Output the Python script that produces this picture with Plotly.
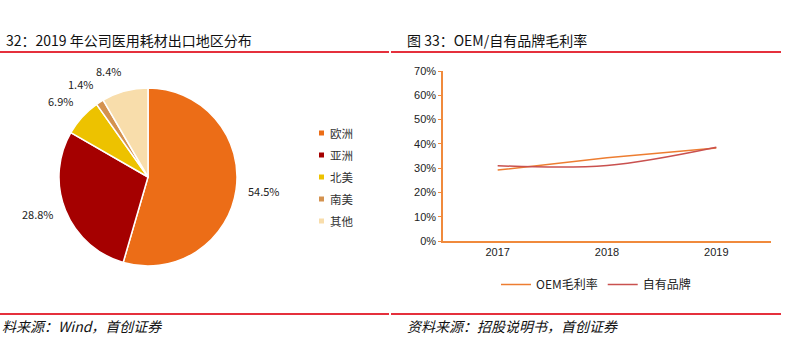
import math
import plotly.graph_objects as go

# Pie data
regions = ["欧洲", "亚洲", "北美", "南美", "其他"]
shares = [54.5, 28.8, 6.9, 1.4, 8.4]
pie_colors = ["#EC6D17", "#A50000", "#EDC200", "#D4924F", "#F8DDAB"]

# Line data
years = ["2017", "2018", "2019"]
oem_margin = [0.292, 0.343, 0.383]
own_margin = [0.310, 0.311, 0.386]
y_ticks = [0, 0.1, 0.2, 0.3, 0.4, 0.5, 0.6, 0.7]

W, H = 785, 340
def px(x): return x / W
def py(y): return 1 - y / H

# pie placement (layout)
CX, CY, R = 148, 177, 89

fig = go.Figure()
fig.add_trace(go.Pie(
    labels=regions, values=shares, sort=False, direction="clockwise", rotation=0,
    marker=dict(colors=pie_colors, line=dict(color="white", width=1.5)),
    textinfo="none", showlegend=False, hoverinfo="skip",
    domain=dict(x=[px(CX - R), px(CX + R)], y=[py(CY + R), py(CY - R)]),
))
fig.add_trace(go.Scatter(
    x=years, y=oem_margin, mode="lines", name="OEM毛利率",
    line=dict(color="#ED7D31", width=1.5),
))
fig.add_trace(go.Scatter(
    x=years, y=own_margin, mode="lines", name="自有品牌",
    line=dict(color="#C9514F", width=1.5, shape="spline", smoothing=1.0),
))

fig.update_layout(
    width=W, height=H, margin=dict(l=0, r=0, t=0, b=0, autoexpand=False),
    paper_bgcolor="white", plot_bgcolor="white",
    font=dict(family="Noto Sans CJK SC", size=11, color="#222"),
    xaxis=dict(domain=[px(443), px(771)], range=[-0.5, 2.5], showgrid=False, showline=True,
               linecolor="#F08A3C", linewidth=1.5, ticks="", zeroline=False,
               tickfont=dict(family="Liberation Sans", size=11, color="#222"),
               automargin=False, fixedrange=True),
    yaxis=dict(domain=[py(241), py(71)], range=[0, 0.7], tickvals=y_ticks,
               tickformat=".0%", showgrid=False, showline=True,
               linecolor="#F08A3C", linewidth=1.5, ticks="outside", ticklen=3,
               tickcolor="#F08A3C", zeroline=False, automargin=False,
               tickfont=dict(family="Liberation Sans", size=11, color="#222")),
    legend=dict(orientation="h", x=px(496), y=py(270), xanchor="left", yanchor="top",
                font=dict(family="Noto Sans CJK SC", size=12, color="#222"),
                bgcolor="rgba(0,0,0,0)"),
    showlegend=True,
)

# Pie value labels, placed just outside each slice's mid-angle
cum = 0.0
total = sum(shares)
for v in shares:
    mid = (cum + v / 2) / total * 2 * math.pi
    cum += v
    s, c = math.sin(mid), math.cos(mid)
    lx = CX + (R + 11) * s
    ly = CY - (R + 11) * c
    xa = "left" if s >= 0 else "right"
    ya = "middle" if abs(c) < 0.4 else ("bottom" if c > 0 else "top")
    fig.add_annotation(text=f"{v:.1f}%", x=px(lx), y=py(ly), xref="paper", yref="paper",
                       xanchor=xa, yanchor=ya, showarrow=False, borderpad=0,
                       font=dict(family="Noto Sans CJK SC", size=11, color="#222"))

# Pie legend
for i, (name, col) in enumerate(zip(regions, pie_colors)):
    yy = 133 + i * 22
    fig.add_shape(type="rect", xref="paper", yref="paper",
                  x0=px(319), x1=px(324), y0=py(yy + 2.5), y1=py(yy - 2.5),
                  fillcolor=col, line=dict(width=0))
    fig.add_annotation(text=name, x=px(328), y=py(yy), xref="paper", yref="paper",
                       xanchor="left", yanchor="middle", showarrow=False,
                       font=dict(family="Noto Sans CJK SC", size=11.5, color="#333"))

# Titles
fig.add_annotation(text="32：2019 年公司医用耗材出口地区分布", x=px(4), y=py(40),
                   xref="paper", yref="paper", xanchor="left", yanchor="middle",
                   showarrow=False, font=dict(family="Noto Sans CJK SC", size=14, color="#111"))
fig.add_annotation(text="图 33：OEM/自有品牌毛利率", x=px(405), y=py(40),
                   xref="paper", yref="paper", xanchor="left", yanchor="middle",
                   showarrow=False, font=dict(family="Noto Sans CJK SC", size=14, color="#111"))
# Sources
fig.add_annotation(text="<i>料来源：Wind，首创证券</i>", x=px(0), y=py(326),
                   xref="paper", yref="paper", xanchor="left", yanchor="middle",
                   showarrow=False, font=dict(family="Noto Sans CJK SC", size=14, color="#111"))
fig.add_annotation(text="<i>资料来源：招股说明书，首创证券</i>", x=px(405), y=py(326),
                   xref="paper", yref="paper", xanchor="left", yanchor="middle",
                   showarrow=False, font=dict(family="Noto Sans CJK SC", size=14, color="#111"))
# Red rules
for (x0, x1) in [(0, 389), (391, 781)]:
    for yy in (52, 314):
        fig.add_shape(type="line", xref="paper", yref="paper",
                      x0=px(x0), x1=px(x1), y0=py(yy), y1=py(yy),
                      line=dict(color="#E5303C", width=2))

fig.write_html("out.html")
